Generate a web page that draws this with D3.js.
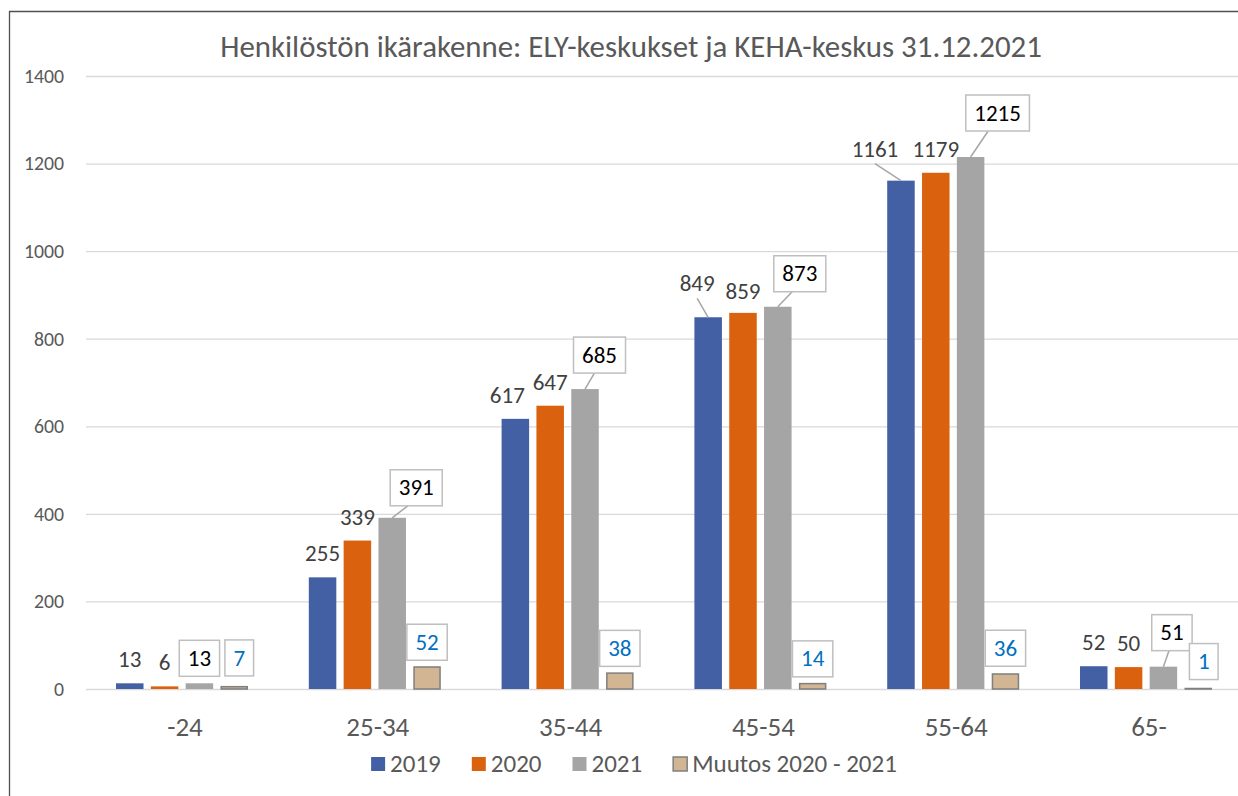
<!DOCTYPE html>
<html>
<head>
<meta charset="utf-8">
<script src="https://cdn.jsdelivr.net/npm/d3@7"></script>
<style>
  html, body { margin: 0; padding: 0; background: #fff; }
  svg { display: block; font-family: Carlito, Calibri, "Liberation Sans", Arial, sans-serif; }
</style>
</head>
<body>
<svg id="chart" width="1238" height="796"></svg>
<script>
// ---- data ----
const titleText = "Henkilöstön ikärakenne: ELY-keskukset ja KEHA-keskus 31.12.2021";
const categories = ["-24", "25-34", "35-44", "45-54", "55-64", "65-"];
const seriesNames = ["2019", "2020", "2021", "Muutos 2020 - 2021"];
const values2019 = [13, 255, 617, 849, 1161, 52];
const values2020 = [6, 339, 647, 859, 1179, 50];
const values2021 = [13, 391, 685, 873, 1215, 51];
const valuesChange = [7, 52, 38, 14, 36, 1];
const yTicks = [0, 200, 400, 600, 800, 1000, 1200, 1400];

// ---- styles / layout (not data) ----
const colors = ["#4460A5", "#DA620E", "#A5A5A5", "#D2B592"];
const strokes = ["none", "none", "none", "#7F7F7F"];
const labelKind = ["plain", "plain", "box", "box"];
const labelColor = ["#404040", "#404040", "#000000", "#0070C0"];
// label nudges [dx, dy] per series per category
const nudges = [
  [[0, 0], [0, 0], [-8, 0], [-11, -10], [-26, -8], [0, 0]],
  [[0, 0], [0, 0], [0, 0], [0, 2], [0, 0], [0, 0]],
  [[0, -1], [24, -6], [14.5, -10], [22, -9], [27, -20], [8.5, -10]],
  [[5, -4], [0, 0], [0, 0], [0, 0], [0, -1], [5.5, -3]]
];

const seriesValues = [values2019, values2020, values2021, valuesChange];

const svg = d3.select("#chart");
const W = 1238, H = 796;

// frame
svg.append("path")
  .attr("d", `M9.5,${H} L9.5,11.5 L${W},11.5`)
  .attr("fill", "none").attr("stroke", "#505050").attr("stroke-width", 1.3);

const y = d3.scaleLinear().domain([0, 1400]).range([689, 76]);
const x0 = d3.scaleBand().domain(categories).range([85.6, 1242.4]).padding(0);
const x1 = d3.scaleBand().domain(d3.range(seriesNames.length))
  .range([30.4, x0.bandwidth() - 30.4]).paddingInner(0.21).paddingOuter(0);

// gridlines
const yAxis = d3.axisLeft(y).tickValues(yTicks).tickFormat(d3.format("d"))
  .tickSize(-(W - 86)).tickPadding(22);
const gy = svg.append("g").attr("transform", "translate(86,0)").call(yAxis);
gy.select(".domain").remove();
gy.selectAll(".tick line").attr("stroke", "#D9D9D9").attr("stroke-width", 1.3);
gy.selectAll(".tick text")
  .attr("fill", "#595959").attr("font-size", "19.8px")
  .attr("font-family", "Carlito, Calibri, 'Liberation Sans', Arial, sans-serif");

// title
const title = svg.append("text")
  .attr("x", 631).attr("y", 57).attr("text-anchor", "middle")
  .attr("fill", "#595959").attr("font-size", "26px").text(titleText);
const tw = title.node().getComputedTextLength();
title.attr("font-size", (26 * 822 / tw).toFixed(2) + "px");

// bars
const groups = svg.append("g").selectAll("g").data(categories).join("g")
  .attr("transform", d => `translate(${x0(d)},0)`);

groups.selectAll("rect")
  .data((c, ci) => seriesValues.map((vals, si) => ({ si, ci, v: vals[ci] })))
  .join("rect")
  .attr("x", d => x1(d.si) + (d.si === 3 ? 0.75 : 0))
  .attr("width", d => x1.bandwidth() - (d.si === 3 ? 1.5 : 0))
  .attr("y", d => Math.min(y(d.v) + (d.si === 3 ? 0.75 : 0), y(0) - 0.5))
  .attr("height", d => Math.max(0.5, y(0) - y(d.v) - (d.si === 3 ? 0.75 : 0)))
  .attr("fill", d => colors[d.si])
  .attr("stroke", d => strokes[d.si])
  .attr("stroke-width", 1.5);

// data labels
const labelLayer = svg.append("g");
const fs = 23;
seriesValues.forEach((vals, si) => {
  vals.forEach((v, ci) => {
    const cx = x0(categories[ci]) + x1(si) + x1.bandwidth() / 2;
    const top = y(v);
    const [dx, dy] = nudges[si][ci];
    if (labelKind[si] === "plain") {
      const tx = cx + dx, base = top - 16 + dy;
      if (Math.abs(dx) > 9) {
        labelLayer.append("line")
          .attr("x1", tx).attr("y1", base + 7)
          .attr("x2", cx).attr("y2", top)
          .attr("stroke", "#A6A6A6").attr("stroke-width", 1.5);
      }
      labelLayer.append("text")
        .attr("x", tx).attr("y", base).attr("text-anchor", "middle")
        .attr("fill", labelColor[si]).attr("font-size", fs + "px").text(v);
    } else {
      const t = labelLayer.append("text")
        .attr("text-anchor", "middle")
        .attr("fill", labelColor[si]).attr("font-size", fs + "px").text(v);
      const w = t.node().getComputedTextLength() + 17;
      const h = 36;
      const bcx = cx + dx;
      const bottom = top - 6 + dy;
      if (Math.abs(dx) > 6 && si === 2) {
        labelLayer.insert("line", "text")
          .attr("x1", bcx - 0.35 * dx).attr("y1", bottom)
          .attr("x2", cx).attr("y2", top)
          .attr("stroke", "#A6A6A6").attr("stroke-width", 1.5);
      }
      labelLayer.insert("rect", "text")
        .attr("x", bcx - w / 2).attr("y", bottom - h)
        .attr("width", w).attr("height", h)
        .attr("fill", "#fff").attr("stroke", "#BFBFBF").attr("stroke-width", 1.5);
      t.attr("x", bcx).attr("y", bottom - h / 2 + 7.6);
    }
  });
});
labelLayer.selectAll("text").raise();

// category labels
svg.append("g").selectAll("text").data(categories).join("text")
  .attr("x", d => x0(d) + x0.bandwidth() / 2 + 3)
  .attr("y", 736).attr("text-anchor", "middle")
  .attr("fill", "#595959").attr("font-size", "27px").text(d => d);

// legend
const legend = svg.append("g");
let lx = 0;
seriesNames.forEach((name, si) => {
  const g = legend.append("g");
  g.append("rect").attr("x", lx).attr("y", -15).attr("width", 14).attr("height", 14)
    .attr("fill", colors[si])
    .attr("stroke", si === 3 ? "#7F7F7F" : "none").attr("stroke-width", 1.5);
  const t = g.append("text").attr("x", lx + 19).attr("y", 0)
    .attr("fill", "#595959").attr("font-size", "25px").text(name);
  lx += 19 + t.node().getComputedTextLength() + 31;
});
const totalW = lx - 31;
legend.attr("transform", `translate(${634 - totalW / 2},772)`);
</script>
</body>
</html>
